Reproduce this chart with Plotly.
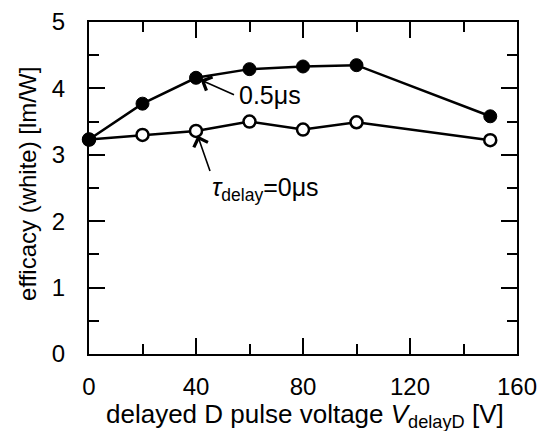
import plotly.graph_objects as go

# Data
voltage = [0, 20, 40, 60, 80, 100, 150]
eff_delay_05us = [3.23, 3.77, 4.16, 4.29, 4.33, 4.35, 3.58]
eff_delay_0us = [3.23, 3.30, 3.36, 3.50, 3.38, 3.49, 3.22]

x_ticks = [0, 40, 80, 120, 160]
y_ticks = [0, 1, 2, 3, 4, 5]

x_title = "delayed D pulse voltage <i>V</i><sub>delayD</sub> [V]"
y_title = "efficacy (white) [lm/W]"

FONT = "Liberation Sans, Arial, sans-serif"

fig = go.Figure()
fig.add_trace(go.Scatter(
    x=voltage, y=eff_delay_0us, mode="lines+markers",
    line=dict(color="black", width=2.5),
    marker=dict(symbol="circle", size=12, color="white",
                line=dict(color="black", width=2.5)),
    showlegend=False, cliponaxis=False,
))
fig.add_trace(go.Scatter(
    x=voltage, y=eff_delay_05us, mode="lines+markers",
    line=dict(color="black", width=2.5),
    marker=dict(symbol="circle", size=13, color="black",
                line=dict(color="black", width=1)),
    showlegend=False, cliponaxis=False,
))

# labelled arrows
fig.add_annotation(x=voltage[2], y=eff_delay_05us[2], text="0.5μs",
                   showarrow=True, ax=38, ay=17,
                   xanchor="left", yanchor="middle", borderpad=4,
                   arrowhead=4, arrowsize=1.8, arrowwidth=1.6,
                   arrowcolor="black", standoff=5,
                   font=dict(family=FONT, size=25, color="black"))
fig.add_annotation(x=voltage[2], y=eff_delay_0us[2],
                   text="<i>τ</i><sub>delay</sub>=0μs",
                   showarrow=True, ax=14, ay=40,
                   xanchor="left", yanchor="top",
                   arrowhead=4, arrowsize=1.8, arrowwidth=1.6,
                   arrowcolor="black", standoff=5,
                   font=dict(family=FONT, size=25, color="black"))

# axis titles
fig.add_annotation(xref="paper", yref="paper", x=0.505, y=-0.186,
                   text=x_title, showarrow=False,
                   xanchor="center", yanchor="middle",
                   font=dict(family=FONT, size=26, color="black"))
fig.add_annotation(xref="paper", yref="paper", x=-0.145, y=0.512,
                   text=y_title, showarrow=False, textangle=-90,
                   xanchor="center", yanchor="middle",
                   font=dict(family=FONT, size=24, color="black"))

axis_common = dict(
    showgrid=False, zeroline=False, showline=True, linecolor="black",
    linewidth=2, mirror="allticks", ticks="inside", tickwidth=2,
    ticklen=16, tickcolor="black", automargin=False,
    tickfont=dict(family=FONT, size=24, color="black"),
)

fig.update_xaxes(
    range=[0, 160], tickvals=x_ticks, ticktext=[str(v) for v in x_ticks],
    minor=dict(dtick=20, ticks="inside", ticklen=10, tickwidth=2,
               tickcolor="black", showgrid=False),
    ticklabelstandoff=10,
    **axis_common,
)
fig.update_yaxes(
    range=[0, 5], tickvals=y_ticks, ticktext=[str(v) for v in y_ticks],
    minor=dict(dtick=0.5, ticks="inside", ticklen=10, tickwidth=2,
               tickcolor="black", showgrid=False),
    ticklabelstandoff=17,
    **axis_common,
)

fig.update_layout(
    width=542, height=423,
    margin=dict(l=81, r=33, t=14, b=77),
    paper_bgcolor="white", plot_bgcolor="white",
    font=dict(family=FONT, size=24, color="black"),
)

fig.write_html("out.html")
